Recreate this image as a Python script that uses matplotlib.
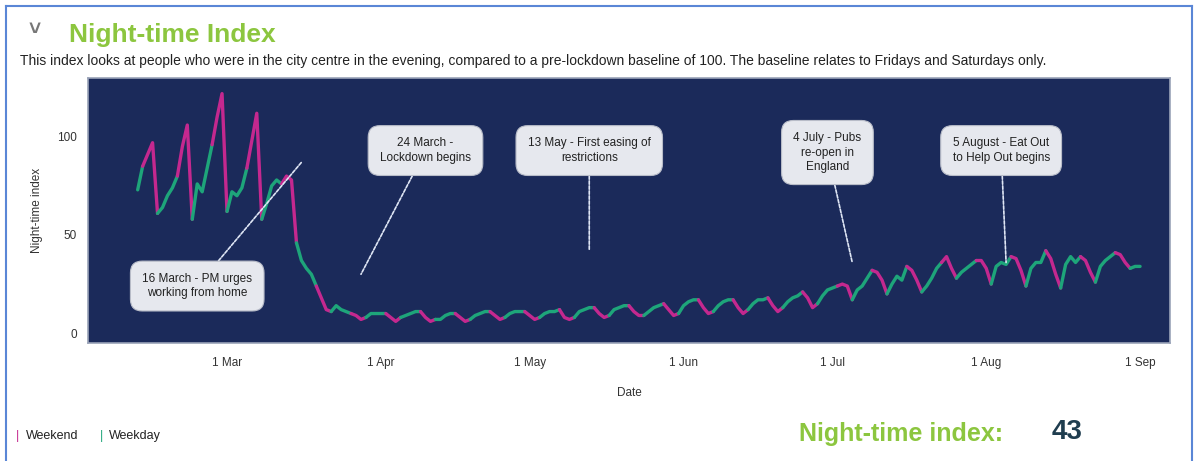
import matplotlib
matplotlib.use("Agg")
import matplotlib.pyplot as plt
from matplotlib.lines import Line2D
import pandas as pd

plt.rcParams['font.family'] = ['Liberation Sans', 'DejaVu Sans']

# daily night-time index, 12 Feb 2020 to 1 Sep 2020
start_date = '2020-02-12'
feb_vals = [73, 85, 91, 97, 61, 64, 70, 74, 80, 95, 106, 58, 76, 72, 84, 96, 110, 122]
mar_vals = [62, 72, 70, 74, 84, 98, 112, 58, 66, 75, 78, 76, 80, 78, 46, 37,
            33, 30, 24, 18, 12, 11, 14, 12, 11, 10, 9, 7, 8, 10, 10]
apr_vals = [10, 10, 8, 6, 8, 9, 10, 11, 11, 8, 6, 7, 7, 9, 10, 10, 8, 6, 7, 9,
            10, 11, 11, 9, 7, 8, 10, 11, 11, 11]
may_vals = [9, 7, 8, 10, 11, 11, 12, 8, 7, 8, 11, 12, 13, 13, 10, 8, 9, 12, 13,
            14, 14, 11, 9, 9, 11, 13, 14, 15, 12, 9, 10]
jun_vals = [14, 16, 17, 17, 13, 10, 11, 14, 16, 17, 17, 13, 10, 12, 15, 17, 17,
            18, 14, 11, 13, 16, 18, 19, 21, 18, 13, 15, 19, 22]
jul_vals = [23, 24, 25, 24, 17, 22, 24, 28, 32, 31, 27, 20, 25, 29, 27, 34, 32,
            27, 21, 24, 28, 33, 36, 39, 33, 28, 31, 33, 35, 37, 37]
aug_vals = [33, 25, 34, 36, 35, 39, 38, 32, 24, 33, 36, 36, 42, 38, 30, 23, 35,
            39, 36, 39, 37, 31, 26, 34, 37, 39, 41, 40, 36, 33, 34]
sep_vals = [34]

tick_dates = ['2020-03-01', '2020-04-01', '2020-05-01', '2020-06-01',
              '2020-07-01', '2020-08-01', '2020-09-01']
tick_labels = ['1 Mar', '1 Apr', '1 May', '1 Jun', '1 Jul', '1 Aug', '1 Sep']
y_ticks = [0, 50, 100]

# (label, date pointed at, value pointed at, box date, box value)
events = [
    ('16 March - PM urges\nworking from home', '2020-03-16', 87, '2020-02-24', 24),
    ('24 March -\nLockdown begins', '2020-03-28', 30, '2020-04-10', 93),
    ('13 May - First easing of\nrestrictions', '2020-05-13', 42, '2020-05-13', 93),
    ('4 July - Pubs\nre-open in\nEngland', '2020-07-05', 36, '2020-06-30', 92),
    ('5 August - Eat Out\nto Help Out begins', '2020-08-05', 36, '2020-08-04', 93),
]

values = feb_vals + mar_vals + apr_vals + may_vals + jun_vals + jul_vals + aug_vals + sep_vals
dates = pd.date_range(start_date, periods=len(values), freq='D')
df = pd.DataFrame({'date': dates, 'value': values})
# Friday=4, Saturday=5
df['weekend'] = df['date'].dt.dayofweek.isin([4, 5])

GREEN = '#1ea57a'
MAGENTA = '#c4288f'
NAVY = '#1b2a5a'
LIME = '#8cc63f'

fig = plt.figure(figsize=(11.98, 4.61), dpi=100)
ax = fig.add_axes([0.0735, 0.256, 0.903, 0.575])
ax.set_facecolor(NAVY)

# colour each day-to-day step: magenta if it touches a Friday or Saturday
seg_col = []
for i in range(len(df) - 1):
    wk = df['weekend'][i] or df['weekend'][i + 1]
    seg_col.append(MAGENTA if wk else GREEN)

start = 0
for i in range(1, len(seg_col) + 1):
    if i == len(seg_col) or seg_col[i] != seg_col[start]:
        part = df.iloc[start:i + 1]
        ax.plot(part['date'], part['value'], color=seg_col[start], lw=2.4,
                solid_capstyle='round', solid_joinstyle='round', zorder=3)
        start = i

for text, xd, yv, bx, by in events:
    ax.annotate(text, xy=(pd.Timestamp(xd), yv), xytext=(pd.Timestamp(bx), by),
                ha='center', va='center', fontsize=8.5, color='#222222',
                linespacing=1.25,
                bbox=dict(boxstyle='round,pad=1.0', fc='#e6e8ee', ec='#b8bcc8', lw=0.8),
                arrowprops=dict(arrowstyle='-', color='#dfe6f5', lw=1.2,
                                linestyle=(0, (2, 1)), shrinkA=0, shrinkB=0),
                zorder=5)

ax.set_xlim(pd.Timestamp('2020-02-02'), pd.Timestamp('2020-09-07'))
ax.set_ylim(-5, 130)
ax.set_xticks([pd.Timestamp(d) for d in tick_dates])
ax.set_xticklabels(tick_labels)
ax.set_yticks(y_ticks)
ax.tick_params(axis='both', length=0, labelsize=8.5, colors='#333333')
ax.tick_params(axis='x', pad=10)
ax.tick_params(axis='y', pad=8)
for sp in ax.spines.values():
    sp.set_color('#9aa3b8')
    sp.set_linewidth(1.2)

ax.set_xlabel('Date', fontsize=8.5, color='#333333')
ax.xaxis.set_label_coords(0.5, -0.165)
ax.set_ylabel('Night-time index', fontsize=8.5, color='#333333')
ax.yaxis.set_label_coords(-0.042, 0.5)

# header
fig.text(0.029, 0.935, '˅', fontsize=15, fontweight='bold', color='#777777',
         ha='center', va='center')
fig.text(0.058, 0.925, 'Night-time Index', fontsize=19, fontweight='bold',
         color=LIME, ha='left', va='center')
fig.text(0.017, 0.868, 'This index looks at people who were in the city centre in the evening, '
         'compared to a pre-lockdown baseline of 100. The baseline relates to Fridays and Saturdays only.',
         fontsize=10, color='#222222', ha='left', va='center')

# footer legend and headline figure
fig.text(0.013, 0.055, '|', fontsize=9, color=MAGENTA, ha='left', va='center')
fig.text(0.022, 0.055, 'Weekend', fontsize=9, color='#222222', ha='left', va='center')
fig.text(0.083, 0.055, '|', fontsize=9, color=GREEN, ha='left', va='center')
fig.text(0.091, 0.055, 'Weekday', fontsize=9, color='#222222', ha='left', va='center')
fig.text(0.667, 0.058, 'Night-time index:', fontsize=18, fontweight='bold',
         color=LIME, ha='left', va='center')
fig.text(0.878, 0.062, '43', fontsize=20, fontweight='bold',
         color='#1f3d4f', ha='left', va='center')

# outer frame (left, top, right)
frame = '#5a86d6'
fig.add_artist(Line2D([0.005, 0.005], [0.0, 0.987], transform=fig.transFigure, color=frame, lw=1.5))
fig.add_artist(Line2D([0.005, 0.995], [0.987, 0.987], transform=fig.transFigure, color=frame, lw=1.5))
fig.add_artist(Line2D([0.995, 0.995], [0.0, 0.987], transform=fig.transFigure, color=frame, lw=1.5))

fig.savefig('out.png', dpi=100, facecolor='white')
